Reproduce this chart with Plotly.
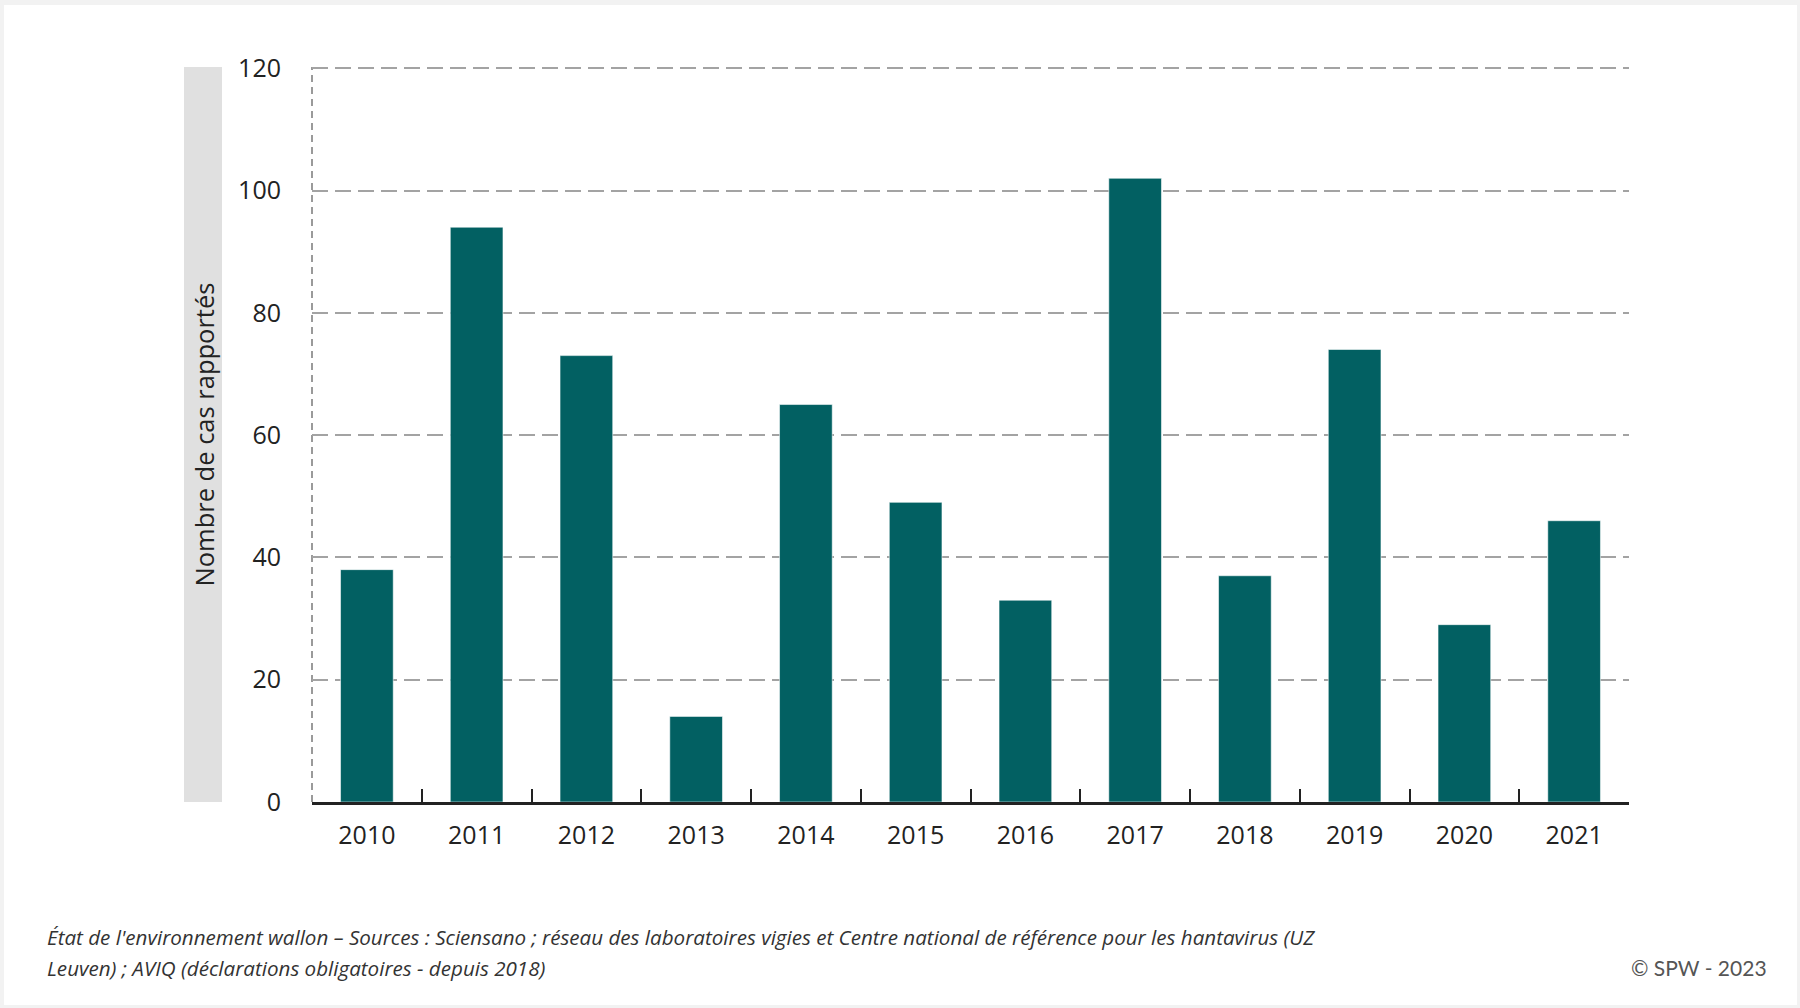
import plotly.graph_objects as go

years = ["2010", "2011", "2012", "2013", "2014", "2015", "2016", "2017", "2018", "2019", "2020", "2021"]
cases = [38, 94, 73, 14, 65, 49, 33, 102, 37, 74, 29, 46]
y_ticks = [0, 20, 40, 60, 80, 100, 120]

y_title = "Nombre de cas rapportés"
footer_line1 = "État de l'environnement wallon – Sources : Sciensano ; réseau des laboratoires vigies et Centre national de référence pour les hantavirus (UZ"
footer_line2 = "Leuven) ; AVIQ (déclarations obligatoires - depuis 2018)"
credit = "© SPW - 2023"

W, H = 1800, 1008
L, R, T, B = 312, 171, 67, 206
PW, PH = W - L - R, H - T - B


def px(x):
    return (x - L) / PW


def py(y):
    return (H - B - y) / PH


fig = go.Figure()
fig.add_trace(go.Bar(
    x=years, y=cases,
    marker=dict(color="#026062", line=dict(color="rgba(255,255,255,0.55)", width=1)),
    hoverinfo="x+y",
))

font = "Open Sans, sans-serif"

fig.update_layout(
    width=W, height=H,
    margin=dict(l=L, r=R, t=T, b=B, pad=0),
    paper_bgcolor="#f2f2f2",
    plot_bgcolor="white",
    bargap=0.52,
    showlegend=False,
    font=dict(family=font, color="#222222"),
    xaxis=dict(
        type="category",
        showgrid=False,
        showline=True, linecolor="#222222", linewidth=3,
        ticks="inside", tickson="boundaries", ticklen=13, tickwidth=2, tickcolor="#222222",
        tickfont=dict(size=25, color="#222222", family=font),
        ticklabelstandoff=9,
        fixedrange=True,
    ),
    yaxis=dict(
        range=[0, 120.2],
        tickvals=y_ticks,
        showgrid=True, gridcolor="#a3a3a3", gridwidth=2, griddash="16px,7px",
        zeroline=False, showline=False, ticks="",
        tickfont=dict(size=25, color="#222222", family=font),
        ticklabelstandoff=30,
        fixedrange=True,
    ),
    shapes=[
        # white card on grey page
        dict(type="rect", xref="paper", yref="paper",
             x0=px(4), x1=px(1797), y0=py(1005), y1=py(5),
             fillcolor="white", line=dict(width=0), layer="below"),
        # grey band behind y-axis title
        dict(type="rect", xref="paper", yref="paper",
             x0=px(184), x1=px(222), y0=0, y1=1,
             fillcolor="#e0e0e0", line=dict(width=0), layer="below"),
        # dashed left border of plot
        dict(type="line", xref="paper", yref="paper",
             x0=0, x1=0, y0=0, y1=1,
             line=dict(color="#9a9a9a", width=2, dash="7px,5px"), layer="below"),
    ],
    annotations=[
        dict(text=y_title, xref="paper", yref="paper", x=px(203), y=0.5,
             textangle=-90, showarrow=False, xanchor="center", yanchor="middle",
             font=dict(size=25.5, color="#222222", family=font)),
        dict(text=footer_line1, xref="paper", yref="paper", x=px(45), y=py(937),
             showarrow=False, xanchor="left", yanchor="middle", align="left",
             font=dict(size=20.6, color="#333333", family=font, style="italic")),
        dict(text=footer_line2, xref="paper", yref="paper", x=px(45), y=py(968),
             showarrow=False, xanchor="left", yanchor="middle", align="left",
             font=dict(size=20.6, color="#333333", family=font, style="italic")),
        dict(text=credit, xref="paper", yref="paper", x=px(1769), y=py(968),
             showarrow=False, xanchor="right", yanchor="middle",
             font=dict(size=21, color="#555555", family="Lato, sans-serif")),
    ],
)

fig.write_html("out.html")
